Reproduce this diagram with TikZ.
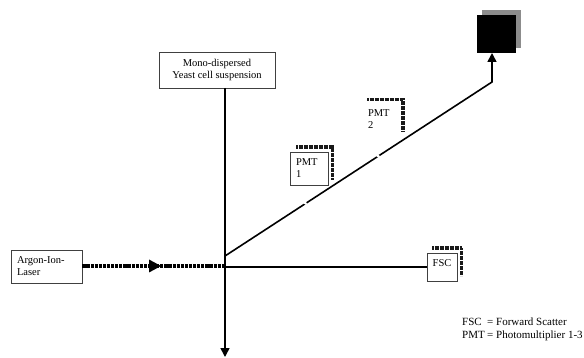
\documentclass[tikz,border=0pt]{standalone}
\usepackage{fontspec}
\setmainfont{Liberation Serif}
\usetikzlibrary{arrows.meta}
\begin{document}
\begin{tikzpicture}[x=1pt,y=-1pt,
  font=\fontsize{10.5}{12}\selectfont,
  mainline/.style={line width=1.6pt,black},
  box/.style={draw=black!75,line width=0.6pt,fill=white,inner ysep=0pt},
  shadowline/.style={line width=3.4pt,black!90,dash pattern=on 2pt off 0.5pt},
  beam/.style={line width=4pt,black,dash pattern=on 3.2pt off 0.9pt},
  gapmark/.style={white,line width=2.2pt},
  tip/.style={-{Triangle[length=9pt,width=9pt]}},
  legend/.style={anchor=base west,inner sep=0pt,font=\fontsize{11}{12}\selectfont}
]
\useasboundingbox (0,0) rectangle (584,358);

% mono-dispersed yeast box
\node[box,minimum width=116pt,minimum height=36pt,align=center] (mono) at (217,70)
  {Mono-dispersed\\Yeast cell suspension};

% laser box
\node[box,minimum height=33pt,text width=59pt,inner xsep=6pt,align=left] (laser) at (46.5,266.5)
  {Argon-Ion-\\Laser};

% PMT 1
\draw[shadowline] (296,147) -- (332.5,147) -- (332.5,180);
\node[box,minimum height=33pt,text width=26pt,inner xsep=6pt,align=left] (pmt1) at (309,168.5)
  {PMT\\1};

% PMT 2 (no outline)
\draw[shadowline] (367,99.5) -- (403,99.5) -- (403,132);
\node[fill=white,minimum height=33pt,text width=24pt,inner xsep=6pt,inner ysep=0pt,align=left] (pmt2) at (380,119)
  {PMT\\2};

% FSC
\draw[shadowline] (432,248) -- (461.5,248) -- (461.5,276);
\node[box,minimum width=30pt,minimum height=28pt,inner sep=0pt] (fsc) at (442,267) {};
\node[anchor=center] (fsctext) at (442,263) {FSC};

% detector (black box)
\fill[black!45] (482,10) rectangle (521,48);
\node[fill=black,minimum width=39pt,minimum height=38pt,inner sep=0pt] (det) at (496.5,34) {};

% coordinates
\coordinate (vtop) at (225,88);
\coordinate (vbot) at (225,357);
\coordinate (junc) at (225,267);
\coordinate (beamend) at (224,266);
\coordinate (dstart) at (225,256);
\coordinate (bend) at (492,82);
\coordinate (dtip) at (492,53);

% vertical line with arrow
\draw[mainline,tip] (vtop) -- (vbot);

% horizontal line to FSC
\draw[mainline] (junc) -- (fsc.west);

% diagonal line to detector
\draw[mainline,tip,line join=miter] (dstart) -- (bend) -- (dtip);
\draw[gapmark] (303.5,202) -- (306.5,204);
\draw[gapmark] (376.5,155) -- (379.5,157);

% laser beam
\draw[beam] (laser.east |- beamend) -- (beamend);
\fill[black] (149,259.5) -- (161,266) -- (149,272.5) -- cycle;

% legend
\node[legend] (l1a) at (462,326) {FSC};
\node[legend] (l1b) at (487,326) {=};
\node[legend] (l1c) at (496,326) {Forward Scatter};
\node[legend] (l2a) at (462,338) {PMT};
\node[legend] (l2b) at (487,338) {=};
\node[legend] (l2c) at (496,338) {Photomultiplier 1-3};
\end{tikzpicture}
\end{document}
